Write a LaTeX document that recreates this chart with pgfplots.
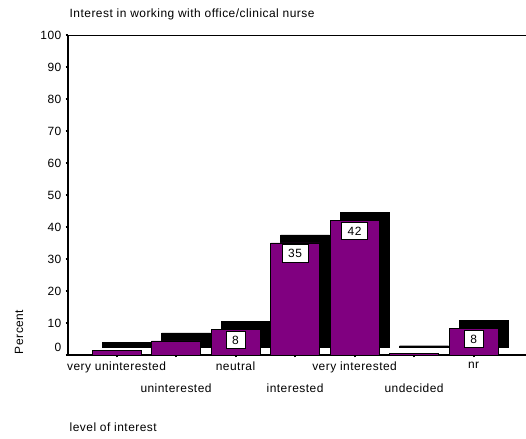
\documentclass[border=0pt]{standalone}
\usepackage{fontspec}
\setmainfont{Liberation Sans}[LetterSpace=4]
\usepackage{pgfplots}
\pgfplotsset{compat=1.18}
\definecolor{barpurple}{RGB}{128,0,128}
\begin{document}
\fontsize{12}{14}\selectfont
\begin{tikzpicture}[x=1bp,y=1bp]
\useasboundingbox (0,0) rectangle (526,439);
\begin{axis}[
  at={(68bp,84bp)}, anchor=south west,
  scale only axis, width=458bp, height=320bp,
  xmin=-0.815, xmax=6.88, ymin=0, ymax=100,
  axis x line*=bottom, axis y line*=left,
  x axis line style={line width=1.2bp},
  y axis line style={line width=2bp},
  clip=false,
  tick align=outside,
  major tick length=2.5bp,
  tick style={black, line width=2bp},
  /pgf/number format/assume math mode=true,
  tick label style={font=\fontsize{12}{14}\selectfont},
  ytick={10,20,...,100},
  extra y ticks={0},
  extra y tick style={yticklabel style={yshift=8bp}},
  xtick={0,2,4,6},
  xticklabels={very uninterested, neutral, very interested, nr},
  extra x ticks={1,3,5},
  extra x tick labels={uninterested, interested, undecided},
  extra x tick style={xticklabel style={yshift=-22bp}},
]
% shadows
\addplot[ybar, bar width=49bp, bar shift=0pt, fill=black, draw=black, xshift=10bp, yshift=8bp]
  coordinates {(0,1.4) (1,4.4) (2,8) (3,35) (4,42) (5,0.4) (6,8.3)};
% bars
\addplot[ybar, bar width=49bp, bar shift=0pt, fill=barpurple, draw=black, line width=0.6bp]
  coordinates {(0,1.4) (1,4.4) (2,8) (3,35) (4,42) (5,0.4) (6,8.3)};
% labels
\addplot[draw=none, mark=none, only marks, nodes near coords, point meta=explicit symbolic,
  every node near coord/.append style={anchor=north, yshift=-1.5bp, fill=white, draw=black,
  line width=0.6bp, inner xsep=6bp, inner ysep=4.5bp, font=\fontsize{12}{14}\selectfont}]
  coordinates {(2,8)[8] (3,35)[35] (4,42)[42] (6,8.3)[8]};
\draw[line width=0.9bp] (rel axis cs:0,1) -- (rel axis cs:1,1);
\end{axis}
\node[anchor=west] at (65.5,425) {Interest in working with office/clinical nurse};
\node[rotate=90] at (19,107) {Percent};
\node[anchor=west] at (65.5,12) {level of interest};
\end{tikzpicture}
\end{document}
